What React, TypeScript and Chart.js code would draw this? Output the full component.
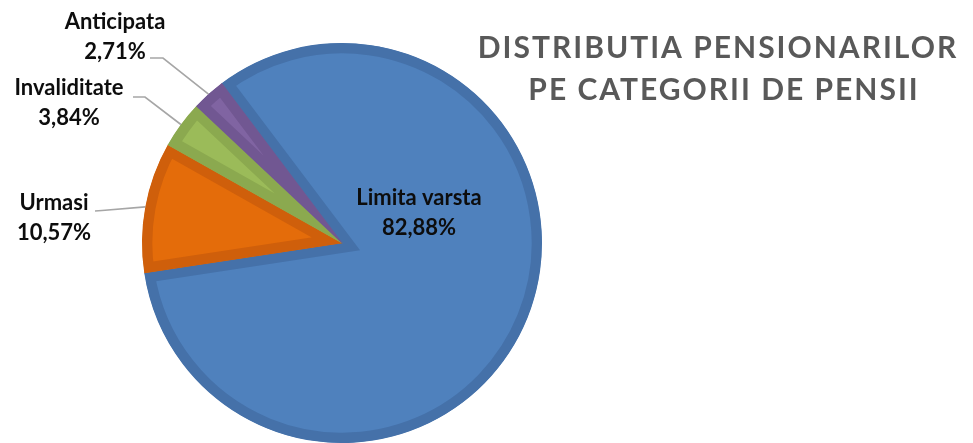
import React, { useEffect, useRef } from "react";
import { Chart, registerables } from "chart.js";

Chart.register(...registerables);

const categories = ["Limita varsta", "Urmasi", "Invaliditate", "Anticipata"];
const shares = [82.88, 10.57, 3.84, 2.71];
const fillColors = ["#4F81BD", "#E46C0A", "#9BBB59", "#8064A2"];
const edgeColors = ["#4571A9", "#CF5F0B", "#8BA94F", "#715792"];
const titleLines = ["DISTRIBUTIA PENSIONARILOR", "PE CATEGORII DE PENSII"];

// label placement, offsets from the pie centre in px
const labelPlacement = [
  { inside: true, dx: 77, dy: -45 },
  { inside: false, dx: -288, dy: -40, elbow: [-240, -32.5], end: [-247, -32] },
  { inside: false, dx: -273, dy: -155, elbow: [-197, -146], end: [-209, -146] },
  { inside: false, dx: -227, dy: -221, elbow: [-179, -185], end: [-192, -185] },
];

const fmt = (v: number) => v.toFixed(2).replace(".", ",") + "%";

const labelPlugin = {
  id: "sliceLabels",
  afterDatasetsDraw(chart: any) {
    const ctx = chart.ctx;
    const meta = chart.getDatasetMeta(0);
    ctx.save();
    meta.data.forEach((arc: any, i: number) => {
      const p = labelPlacement[i];
      const cx = arc.x;
      const cy = arc.y;
      if (!p.inside) {
        const mid = (arc.startAngle + arc.endAngle) / 2;
        const ax = cx + Math.cos(mid) * arc.outerRadius;
        const ay = cy + Math.sin(mid) * arc.outerRadius;
        ctx.beginPath();
        ctx.strokeStyle = "#A6A6A6";
        ctx.lineWidth = 1.6;
        ctx.moveTo(ax, ay);
        ctx.lineTo(cx + p.elbow![0], cy + p.elbow![1]);
        ctx.lineTo(cx + p.end![0], cy + p.end![1]);
        ctx.stroke();
      }
      ctx.fillStyle = "#0D0D0D";
      ctx.font = "bold 22px Lato";
      ctx.textAlign = "center";
      ctx.textBaseline = "middle";
      ctx.fillText(categories[i], cx + p.dx, cy + p.dy);
      ctx.fillText(fmt(shares[i]), cx + p.dx, cy + p.dy + 30);
    });
    ctx.restore();
  },
};

const titlePlugin = {
  id: "sideTitle",
  afterDraw(chart: any) {
    const ctx = chart.ctx;
    ctx.save();
    ctx.fillStyle = "#595959";
    ctx.font = "bold 30px Lato";
    (ctx as any).letterSpacing = "2px";
    ctx.textAlign = "center";
    ctx.textBaseline = "middle";
    ctx.fillText(titleLines[0], 718, 48);
    ctx.fillText(titleLines[1], 724, 90);
    ctx.restore();
  },
};

export default function App() {
  const ref = useRef<HTMLCanvasElement>(null);
  useEffect(() => {
    document.body.style.margin = "0";
    const chart = new Chart(ref.current!, {
      type: "pie",
      data: {
        labels: categories,
        datasets: [
          {
            data: shares,
            backgroundColor: fillColors,
            borderColor: edgeColors,
            borderWidth: 10,
            borderAlign: "inner",
            borderJoinStyle: "miter",
            hoverBorderWidth: 0,
            hoverOffset: 0,
          } as any,
        ],
      },
      options: {
        responsive: false,
        animation: false,
        rotation: 323,
        layout: { padding: { left: 142, right: 431, top: 43, bottom: 0 } },
        plugins: {
          legend: { display: false },
          tooltip: { enabled: false },
          title: { display: false },
        },
        events: [],
      },
      plugins: [labelPlugin, titlePlugin],
    });
    return () => chart.destroy();
  }, []);
  return (
    <div style={{ position: "absolute", left: 0, top: 0, width: 973, height: 443, background: "#fff" }}>
      <canvas ref={ref} width={973} height={443} />
    </div>
  );
}
